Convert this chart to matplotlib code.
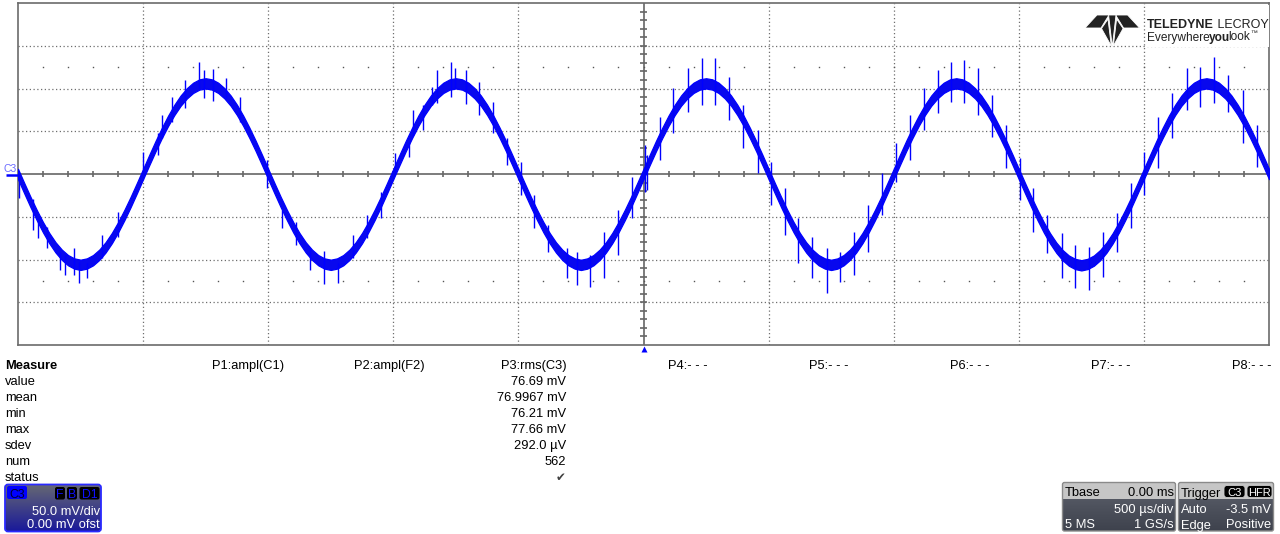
import numpy as np
import matplotlib
matplotlib.use('Agg')
import matplotlib.pyplot as plt
import matplotlib.colors as mc
from matplotlib.patches import Rectangle, FancyBboxPatch, Polygon

plt.rcParams['font.family'] = ['Liberation Sans', 'DejaVu Sans']

# ---------------- data ----------------
time_start_ms = -2.5          # left edge of the screen (500 us/div, 10 div)
time_step_ms = 0.025          # sample spacing of the listed trace values
trace_mv = [
    0.0, -16.6, -32.8, -48.1, -62.3, -75.0, -85.8, -94.4, -100.8, -104.7, -106.2, -104.7, -100.8, -94.4, -85.8, -75.0, -62.3, -48.1, -32.8, -16.6,
    0.0, 16.6, 32.8, 48.1, 62.3, 75.0, 85.8, 94.4, 100.8, 104.7, 106.0, 104.7, 100.8, 94.4, 85.8, 75.0, 62.3, 48.1, 32.8, 16.6,
    0.0, -16.6, -32.8, -48.1, -62.3, -75.0, -85.8, -94.4, -100.8, -104.7, -106.2, -104.7, -100.8, -94.4, -85.8, -75.0, -62.3, -48.1, -32.8, -16.6,
    0.0, 16.6, 32.8, 48.1, 62.3, 75.0, 85.8, 94.4, 100.8, 104.7, 106.0, 104.7, 100.8, 94.4, 85.8, 75.0, 62.3, 48.1, 32.8, 16.6,
    0.0, -16.6, -32.8, -48.1, -62.3, -75.0, -85.8, -94.4, -100.8, -104.7, -106.3, -104.7, -100.8, -94.4, -85.8, -75.0, -62.3, -48.1, -32.8, -16.6,
    0.0, 16.6, 32.8, 48.1, 62.3, 75.0, 85.8, 94.4, 100.8, 104.7, 106.0, 104.7, 100.8, 94.4, 85.8, 75.0, 62.3, 48.1, 32.8, 16.6,
    0.0, -16.6, -32.8, -48.1, -62.3, -75.0, -85.8, -94.4, -100.8, -104.7, -106.3, -104.7, -100.8, -94.4, -85.8, -75.0, -62.3, -48.1, -32.8, -16.6,
    0.0, 16.6, 32.8, 48.1, 62.3, 75.0, 85.8, 94.4, 100.8, 104.7, 106.0, 104.7, 100.8, 94.4, 85.8, 75.0, 62.3, 48.1, 32.8, 16.6,
    0.0, -16.6, -32.8, -48.1, -62.5, -75.3, -86.2, -94.9, -101.3, -105.2, -106.8, -105.2, -101.3, -94.9, -86.2, -75.3, -62.5, -48.1, -32.8, -16.6,
    0.0, 16.6, 32.8, 48.1, 62.3, 75.0, 85.8, 94.4, 100.8, 104.7, 106.0, 104.7, 100.8, 94.4, 85.8, 75.0, 62.3, 48.1, 32.8, 16.6,
    0.0,
]

spike_t_ms = [
    -2.496, -2.439, -2.419, -2.383, -2.332, -2.312, -2.275, -2.255, -2.225, -2.163, -2.102,
    -2.000, -1.942, -1.923, -1.886, -1.833, -1.776, -1.757, -1.719, -1.670, -1.612,
    -1.504, -1.446, -1.389, -1.334, -1.276,
    -1.220, -1.162, -1.106, -1.050, -0.993, -0.936, -0.922, -0.882, -0.845, -0.824,
    -0.768, -0.753, -0.711, -0.657, -0.600, -0.547, -0.491, -0.438, -0.380, -0.307,
    -0.267, -0.214, -0.158, -0.101, -0.047, 0.006,
    0.013, 0.066, 0.119, 0.177, 0.232, 0.286, 0.343, 0.399, 0.459, 0.510, 0.566,
    0.619, 0.675, 0.732, 0.785, 0.843, 0.896, 0.952, 1.008, 1.065, 1.122, 1.176, 1.229,
    1.281, 1.338, 1.394, 1.449, 1.505, 1.558, 1.614, 1.671, 1.725, 1.782, 1.835,
    1.891, 1.947, 2.002, 2.058, 2.114, 2.171, 2.224, 2.281, 2.337, 2.395, 2.451,
]
spike_lo_mv = [
    -27.7, -65.5, -75.2, -86.9, -112.3, -118.1, -118.1, -127.9, -122.0, -98.6, -73.3,
    2.7, 22.2, 41.7, 61.2, 76.8, 100.2, 88.5, 85.4, 88.5, 61.2,
    -16.8, -63.5, -83.0, -112.3, -129.0,
    -127.9, -98.6, -75.2, -51.1, 2.7, 20.3, 45.6, 51.5, 80.7, 82.7,
    90.4, 100.2, 81.5, 69.0, 47.6, 10.5, -24.6, -63.5, -90.9, -122.0,
    -129.8, -131.8, -122.0, -94.7, -51.8, -20.7,
    -18.7, 16.4, 47.6, 72.9, 80.7, 80.7, 63.2, 30.0, 0.8, -36.3, -71.3,
    -104.5, -122.0, -139.2, -126.0, -118.1, -90.9, -48.0, -9.0, 16.4, 51.5, 70.9, 84.6,
    82.7, 69.0, 43.6, 6.6, -30.4, -67.5, -92.8, -122.0, -133.7, -135.7, -120.1,
    -90.9, -63.5, -24.6, 6.6, 41.7, 74.9, 78.7, 82.7, 72.9, 35.9, 8.6,
]
spike_hi_mv = [
    -1.2, -29.2, -51.8, -61.6, -90.9, -94.7, -86.2, -102.6, -104.5, -71.3, -44.1,
    26.1, 47.6, 69.0, 90.4, 109.9, 130.6, 121.6, 122.8, 112.7, 90.4,
    16.4, -42.1, -55.8, -86.9, -90.1,
    -104.5, -71.3, -48.0, -20.7, 24.2, 37.8, 74.9, 80.7, 102.1, 121.6,
    130.6, 123.6, 121.6, 108.0, 84.6, 41.7, 14.4, -24.6, -59.6, -86.9,
    -90.9, -94.7, -67.5, -42.1, -3.1, 33.9,
    22.2, 67.0, 100.2, 123.6, 135.3, 135.3, 113.8, 80.7, 51.5, 14.4, -16.8,
    -51.8, -73.3, -86.9, -90.9, -67.5, -36.3, 0.8, 35.9, 69.0, 100.2, 121.6, 131.4,
    133.5, 123.6, 92.4, 57.3, 18.3, -16.8, -48.0, -69.4, -83.0, -85.0, -67.5,
    -46.0, -10.9, 26.1, 67.0, 94.4, 123.6, 125.6, 137.2, 115.8, 98.2, 57.3,
]

measure_rows = ['value', 'mean', 'min', 'max', 'sdev', 'num', 'status']
param_headers = ['P1:ampl(C1)', 'P2:ampl(F2)', 'P3:rms(C3)', 'P4:- - -',
                 'P5:- - -', 'P6:- - -', 'P7:- - -', 'P8:- - -']
p3_values = ['76.69 mV', '76.9967 mV', '76.21 mV', '77.66 mV', '292.0 \u00b5V', '562']

channel_name = 'C3'
channel_vdiv = '50.0 mV/div'
channel_ofst = '0.00 mV ofst'
tbase_delay = '0.00 ms'
tbase_div = '500 \u00b5s/div'
tbase_ms = '5 MS'
tbase_rate = '1 GS/s'
trig_mode = 'Auto'
trig_level = '-3.5 mV'
trig_type = 'Edge'
trig_slope = 'Positive'

# ---------------- figure ----------------
W, H = 1280, 534
fig = plt.figure(figsize=(W / 100, H / 100), dpi=100, facecolor='white')

# scope graticule axes (pixel box: x 18..1269, y 3..345)
L, R, T, B = 18, 1269, 3, 345
ax = fig.add_axes([L / W, 1 - B / H, (R - L) / W, (B - T) / H], zorder=1)
ax.set_facecolor('white')
ax.set_xlim(-2.5, 2.5)
ax.set_ylim(-200, 200)
ax.set_xticks([])
ax.set_yticks([])
for s in ax.spines.values():
    s.set_color('#6b6b6b')
    s.set_linewidth(1.2)

gcol = '#6e6e6e'
for xv in [-2.0, -1.5, -1.0, -0.5, 0.5, 1.0, 1.5, 2.0]:
    ax.axvline(xv, color=gcol, lw=0.9, ls=(0, (1, 2)), zorder=1)
for yv in [-150, -100, -50, 50, 100, 150]:
    ax.axhline(yv, color=gcol, lw=0.9, ls=(0, (1, 2)), zorder=1)
ax.axhline(0, color='#666666', lw=1.2, zorder=1)
ax.axvline(0, color='#666666', lw=1.2, zorder=1)
xt = np.round(np.arange(-2.4, 2.41, 0.1), 3)
ax.vlines(xt, -3.6, 3.6, color='#666666', lw=1.2, zorder=1)
yt = np.arange(-190, 191, 10)
ax.hlines(yt, -0.013, 0.013, color='#666666', lw=1.2, zorder=1)
for yv in (125, -125):
    ax.plot(xt, np.full_like(xt, yv), ls='none', marker='s', ms=1.0,
            mfc='#555555', mec='none', zorder=1)

t = time_start_ms + time_step_ms * np.arange(len(trace_mv))
v = np.array(trace_mv)
band = 6.0
ax.fill_between(t, v - band, v + band, color='#0808ee', lw=0.9,
                edgecolor='#0000ff', zorder=3)
ax.vlines(spike_t_ms, spike_lo_mv, spike_hi_mv, color='#0000ff', lw=1.0, zorder=3)

# ---------------- overlay (pixel coordinates) ----------------
ov = fig.add_axes([0, 0, 1, 1], zorder=5)
ov.set_facecolor('none')
ov.set_xlim(0, W)
ov.set_ylim(H, 0)
ov.axis('off')

FS = 9.3
renderer = fig.canvas.get_renderer()


def vgrad(x0, y0, x1, y1, c_top, c_bot, clip=None, z=1):
    a = np.array(mc.to_rgb(c_top))
    b = np.array(mc.to_rgb(c_bot))
    f = np.linspace(0, 1, 64)[:, None]
    img = (a * (1 - f) + b * f)[:, None, :]
    im = ov.imshow(img, extent=(x0, x1, y1, y0), aspect='auto',
                   interpolation='bilinear', zorder=z)
    if clip is not None:
        im.set_clip_path(clip)
    return im


def chain(x, y, parts, **kw):
    """place text pieces one after another (pixel coords)"""
    for s, extra, trim in parts:
        opts = dict(kw)
        opts.update(extra)
        tx = ov.text(x, y, s, ha='left', va='baseline', **opts)
        bb = tx.get_window_extent(renderer=renderer)
        x += bb.width - trim
    return x


# channel marker on the left
ov.text(4, 172, 'C3', fontsize=7.5, color='#6a6aff', ha='left', va='baseline')
ov.plot([6, 18], [175, 175], color='#0000ff', lw=1.8, solid_capstyle='butt')
# trigger position marker
ov.plot([644], [348.5], marker='^', ms=5, color='#0000ff', mec='none')

# logo
ov.add_patch(Rectangle((1146.5, 4.5), 122, 42.5, fc='white', ec='none', zorder=1))
logo_polys = [
    [(1085, 28), (1097, 15), (1109, 15), (1101, 28)],
    [(1139.6, 28), (1127.6, 15), (1115.6, 15), (1123.6, 28)],
    [(1108.6, 15), (1116.0, 15), (1112.3, 47)],
    [(1101.5, 28.5), (1108.0, 19), (1111.3, 46)],
    [(1123.1, 28.5), (1116.6, 19), (1113.3, 46)],
]
for p in logo_polys:
    ov.add_patch(Polygon(p, closed=True, fc='#222222', ec='white', lw=0.6, zorder=2))
chain(1147, 27.5, [('TELEDYNE', dict(fontweight='bold'), 0), (' LECROY', {}, 0)],
      fontsize=9.0, color='#222222', zorder=3)
xe = chain(1147, 40.5, [('Everywhere', {}, 0.5), ('you', dict(fontweight='bold'), 2.0),
                        ('look', {}, 0)],
           fontsize=8.6, color='#222222', zorder=3)
ov.text(xe, 35, '\u2122', fontsize=5, color='#222222', ha='left', va='baseline', zorder=3)

# measurement table
ov.text(5, 369, 'Measure', fontsize=FS, fontweight='bold', color='black', ha='left', va='baseline')
for i, name in enumerate(measure_rows):
    ov.text(5, 385 + 16 * i, name, fontsize=FS, color='black', ha='left', va='baseline')
for k, h in enumerate(param_headers):
    ov.text(284 + 141.1 * k, 369, h, fontsize=FS, color='black', ha='right', va='baseline')
for i, val in enumerate(p3_values):
    ov.text(566, 385 + 16 * i, val, fontsize=FS, color='black', ha='right', va='baseline')
ov.text(566, 481, '\u2714', fontsize=8.5, color='#404040', ha='right', va='baseline',
        family=['DejaVu Sans'])

# channel descriptor box
cb = FancyBboxPatch((5, 484.5), 96, 47, boxstyle='round,pad=0,rounding_size=3',
                    fc='none', ec='#2a2aff', lw=1.3, zorder=3)
ov.add_patch(cb)
vgrad(5, 484.5, 101, 531.5, '#666873', '#1a1a9a', clip=cb, z=1)
ov.add_patch(FancyBboxPatch((7, 486), 20, 13, boxstyle='round,pad=0,rounding_size=2',
                            fc='#0000ff', ec='none', zorder=4))
ov.text(17, 497.5, channel_name, fontsize=8.8, color='#000033', ha='center', va='baseline', zorder=6)
for x0, w, s in [(55, 10, 'F'), (67, 10, 'B'), (79.5, 20, 'D1')]:
    ov.add_patch(FancyBboxPatch((x0, 487), w, 12.5, boxstyle='round,pad=0,rounding_size=2',
                                fc='black', ec='none', zorder=4))
    ov.text(x0 + w / 2, 497.5, s, fontsize=8.8, color='#1010ff', ha='center', va='baseline', zorder=5)
ov.text(100, 515, channel_vdiv, fontsize=FS, color='white', ha='right', va='baseline', zorder=5)
ov.text(100, 528.5, channel_ofst, fontsize=FS, color='white', ha='right', va='baseline', zorder=5)

# timebase box
tb = FancyBboxPatch((1062.5, 482.5), 113, 48.5, boxstyle='round,pad=0,rounding_size=2',
                    fc='none', ec='#8a8a8a', lw=1.0, zorder=3)
ov.add_patch(tb)
vgrad(1062.5, 482.5, 1175.5, 531, '#5e626d', '#3e424d', clip=tb, z=1)
ov.add_patch(Rectangle((1063, 483), 112, 15.5, fc='#c6c6c6', ec='none', zorder=2))
ov.text(1065, 496.5, 'Tbase', fontsize=FS, color='black', ha='left', va='baseline', zorder=5)
ov.text(1173.5, 496.5, tbase_delay, fontsize=FS, color='black', ha='right', va='baseline', zorder=5)
ov.text(1173.5, 513, tbase_div, fontsize=FS, color='white', ha='right', va='baseline', zorder=5)
ov.text(1065, 528.5, tbase_ms, fontsize=FS, color='white', ha='left', va='baseline', zorder=5)
ov.text(1173.5, 528.5, tbase_rate, fontsize=FS, color='white', ha='right', va='baseline', zorder=5)

# trigger box
tr = FancyBboxPatch((1178.5, 482.5), 95, 48.5, boxstyle='round,pad=0,rounding_size=2',
                    fc='none', ec='#8a8a8a', lw=1.0, zorder=3)
ov.add_patch(tr)
vgrad(1178.5, 482.5, 1273.5, 531, '#5e626d', '#3e424d', clip=tr, z=1)
ov.add_patch(Rectangle((1179, 483), 94, 15.5, fc='#c6c6c6', ec='none', zorder=2))
ov.text(1181, 496.5, 'Trigger', fontsize=FS, color='black', ha='left', va='baseline', zorder=5)
for x0, w, s in [(1224, 21, 'C3'), (1247, 25, 'HFR')]:
    ov.add_patch(FancyBboxPatch((x0, 485.5), w, 12, boxstyle='round,pad=0,rounding_size=3',
                                fc='black', ec='#cccccc', lw=0.6, zorder=4))
    ov.text(x0 + w / 2, 496, s, fontsize=8, color='white', ha='center', va='baseline', zorder=5)
ov.text(1181, 513, trig_mode, fontsize=FS, color='white', ha='left', va='baseline', zorder=5)
ov.text(1271.5, 513, trig_level, fontsize=FS, color='white', ha='right', va='baseline', zorder=5)
ov.text(1181, 528.5, trig_type, fontsize=FS, color='white', ha='left', va='baseline', zorder=5)
ov.text(1271.5, 528.5, trig_slope, fontsize=FS, color='white', ha='right', va='baseline', zorder=5)

ov.set_xlim(0, W)
ov.set_ylim(H, 0)

fig.savefig('out.png', dpi=100, facecolor='white')
